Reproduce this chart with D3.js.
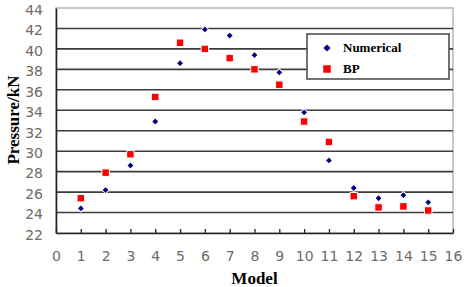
<!DOCTYPE html>
<html>
<head>
<meta charset="utf-8">
<script src="https://cdn.jsdelivr.net/npm/d3@7"></script>
<style>
  body { margin: 0; background: #fff; }
</style>
</head>
<body>
<div id="chart"></div>
<script>
// Data
const models = [1, 2, 3, 4, 5, 6, 7, 8, 9, 10, 11, 12, 13, 14, 15];
const numerical = [24.4, 26.2, 28.6, 32.9, 38.6, 41.9, 41.3, 39.4, 37.7, 33.8, 29.1, 26.4, 25.4, 25.7, 25.0];
const bp = [25.4, 27.9, 29.7, 35.3, 40.6, 40.0, 39.1, 38.0, 36.5, 32.9, 30.9, 25.6, 24.5, 24.6, 24.2];
const xTicks = d3.range(0, 17, 1);
const yTicks = d3.range(22, 45, 2);

const width = 464, height = 287;
const margin = {left: 56, right: 11, top: 8, bottom: 54};

const svg = d3.select("#chart").append("svg")
    .attr("width", width)
    .attr("height", height);

const x = d3.scaleLinear().domain([0, 16]).range([margin.left, width - margin.right]);
const y = d3.scaleLinear().domain([22, 44]).range([height - margin.bottom, margin.top]);

const tickColor = "#6f6a66";

// Plot border (light top/right)
svg.append("rect")
    .attr("x", x(0)).attr("y", y(44))
    .attr("width", x(16) - x(0)).attr("height", y(22) - y(44))
    .attr("fill", "none").attr("stroke", "#b8b8b8").attr("stroke-width", 1.5);

// Horizontal gridlines
svg.selectAll(".grid")
    .data(yTicks.filter(d => d > 22 && d < 44))
    .enter().append("line")
    .attr("class", "grid")
    .attr("x1", x(0)).attr("x2", x(16))
    .attr("y1", d => y(d)).attr("y2", d => y(d))
    .attr("stroke", "#3c3c3c").attr("stroke-width", 1.6);

// Y axis
const yAxis = svg.append("g")
    .attr("transform", `translate(${x(0)},0)`)
    .call(d3.axisLeft(y).tickValues(yTicks).tickSize(0).tickPadding(13));
yAxis.select(".domain").attr("stroke", "#222").attr("stroke-width", 1.6);
yAxis.selectAll("text")
    .attr("fill", tickColor)
    .attr("dy", "0.45em")
    .style("font-family", "'DejaVu Sans', sans-serif")
    .style("font-size", "14px");

// X axis with inward ticks
const xAxis = svg.append("g")
    .attr("transform", `translate(0,${y(22)})`)
    .call(d3.axisBottom(x).tickValues(xTicks).tickSizeInner(-4).tickSizeOuter(0).tickPadding(18));
xAxis.select(".domain").attr("stroke", "#222").attr("stroke-width", 1.6);
xAxis.selectAll(".tick line").attr("stroke", "#222").attr("stroke-width", 1.3);
xAxis.selectAll("text")
    .attr("fill", tickColor)
    .style("font-family", "'DejaVu Sans', sans-serif")
    .style("font-size", "14px");

// Series
const diamond = d3.symbol().type(d3.symbolSquare).size(26);
const square = d3.symbol().type(d3.symbolSquare).size(56);

svg.selectAll(".bp")
    .data(models.map((m, i) => ({m, v: bp[i]})))
    .enter().append("path")
    .attr("class", "bp")
    .attr("d", square)
    .attr("transform", d => `translate(${x(d.m)},${y(d.v)})`)
    .attr("fill", "#ff0000")
    .attr("stroke", "#fff").attr("stroke-width", 1);

svg.selectAll(".num")
    .data(models.map((m, i) => ({m, v: numerical[i]})))
    .enter().append("path")
    .attr("class", "num")
    .attr("d", diamond)
    .attr("transform", d => `translate(${x(d.m)},${y(d.v)}) rotate(45)`)
    .attr("fill", "#000080")
    .attr("stroke", "#fff").attr("stroke-width", 1);

// Axis titles
svg.append("text")
    .attr("x", (x(0) + x(16)) / 2)
    .attr("y", 284)
    .attr("text-anchor", "middle")
    .style("font-family", "'Liberation Serif', serif")
    .style("font-weight", "bold")
    .style("font-size", "17px")
    .text("Model");

svg.append("text")
    .attr("transform", "translate(19,120) rotate(-90)")
    .attr("text-anchor", "middle")
    .style("font-family", "'Liberation Serif', serif")
    .style("font-weight", "bold")
    .style("font-size", "17px")
    .text("Pressure/kN");

// Legend
const legend = svg.append("g").attr("transform", "translate(307,34)");
legend.append("rect")
    .attr("width", 142).attr("height", 45)
    .attr("fill", "#fff").attr("stroke", "#444").attr("stroke-width", 1.5);

const legendData = [
    {label: "Numerical", sym: diamond, color: "#000080", rot: 45},
    {label: "BP", sym: square, color: "#ff0000", rot: 0}
];
legend.selectAll(".item")
    .data(legendData)
    .enter().append("path")
    .attr("d", d => d.sym())
    .attr("transform", (d, i) => `translate(20,${14 + i * 21}) rotate(${d.rot})`)
    .attr("fill", d => d.color);
legend.selectAll("text")
    .data(legendData)
    .enter().append("text")
    .attr("x", 36)
    .attr("y", (d, i) => 18 + i * 21)
    .style("font-family", "'Liberation Serif', serif")
    .style("font-weight", "bold")
    .style("font-size", "13px")
    .text(d => d.label);
</script>
</body>
</html>
